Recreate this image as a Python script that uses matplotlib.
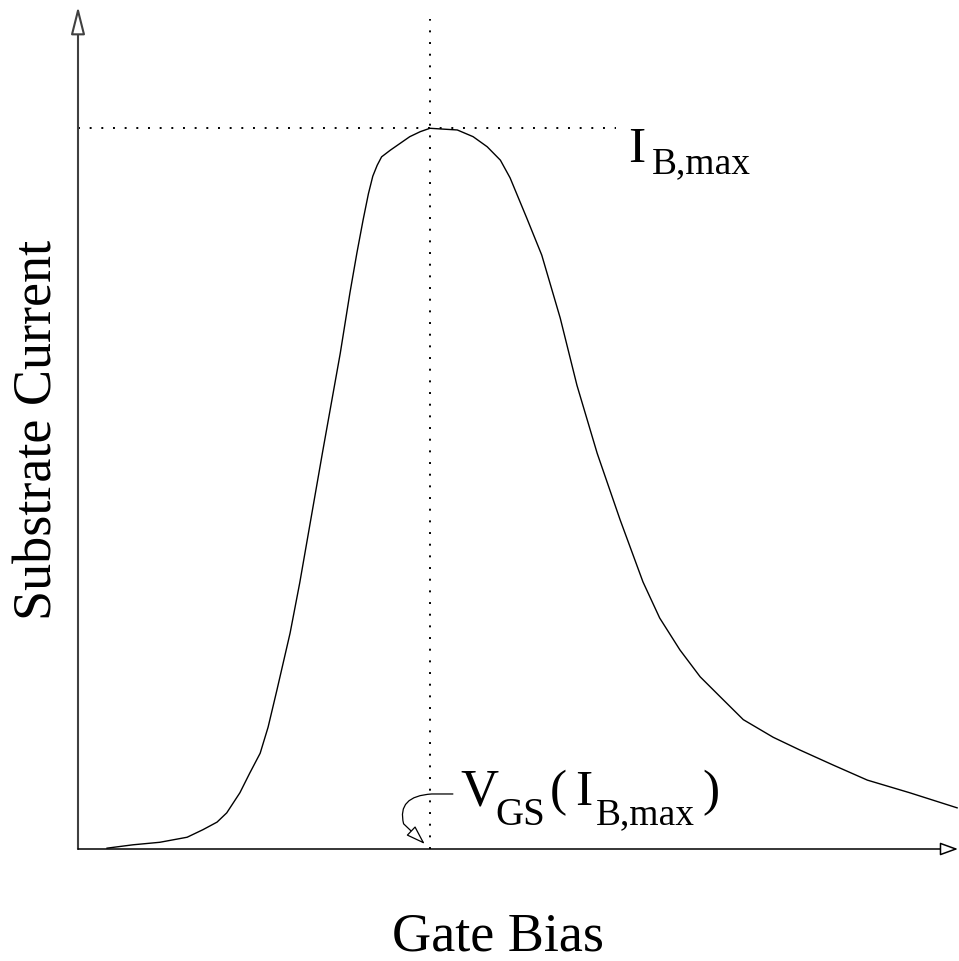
import numpy as np
import matplotlib
matplotlib.use("Agg")
import matplotlib.pyplot as plt
from matplotlib.patches import FancyArrowPatch
from matplotlib.path import Path

plt.rcParams['font.family'] = ['Liberation Serif', 'DejaVu Serif']

# substrate current vs gate bias (normalised units)
gate_bias = [0.033, 0.0625, 0.093, 0.124, 0.142, 0.158, 0.169, 0.184, 0.195, 0.207,
             0.216, 0.226, 0.241, 0.252, 0.261, 0.269, 0.278, 0.298, 0.309,
             0.317, 0.324, 0.330, 0.335, 0.340, 0.345, 0.355, 0.366, 0.377, 0.389,
             0.400, 0.415, 0.431, 0.449, 0.465, 0.480, 0.491, 0.510, 0.527, 0.548,
             0.567, 0.590, 0.616, 0.642, 0.661, 0.684, 0.707, 0.730, 0.756, 0.790,
             0.820, 0.858, 0.897, 0.945, 0.999]
substrate_current = [0.001, 0.005, 0.008, 0.014, 0.023, 0.032, 0.043, 0.067, 0.090, 0.114,
                     0.145, 0.189, 0.257, 0.317, 0.371, 0.419, 0.473, 0.590, 0.662,
                     0.710, 0.749, 0.780, 0.801, 0.814, 0.824, 0.832, 0.840, 0.848, 0.854,
                     0.858, 0.857, 0.856, 0.848, 0.836, 0.820, 0.799, 0.751, 0.707, 0.632,
                     0.552, 0.471, 0.392, 0.318, 0.275, 0.237, 0.205, 0.181, 0.154, 0.133,
                     0.118, 0.100, 0.082, 0.067, 0.049]

x_label = "Gate Bias"
y_label = "Substrate Current"

ipk = int(np.argmax(substrate_current))
v_peak = gate_bias[ipk]
i_peak = substrate_current[ipk]

fig = plt.figure(figsize=(9.59, 9.61), dpi=100)
ax = fig.add_axes([78 / 959, 112 / 961, 880 / 959, 840 / 961])
ax.set_xlim(0, 1)
ax.set_ylim(0, 1)
ax.axis('off')

# axes drawn as open-headed arrows
ax.annotate('', xy=(0, 1.003), xytext=(0, 0), annotation_clip=False,
            arrowprops=dict(arrowstyle='-|>,head_length=17,head_width=4.3',
                            mutation_scale=1, shrinkA=0, shrinkB=0,
                            fc='white', ec='0.25', lw=1.5))
ax.annotate('', xy=(1.0, 0), xytext=(0, 0), annotation_clip=False,
            arrowprops=dict(arrowstyle='-|>,head_length=11,head_width=4',
                            mutation_scale=1, shrinkA=0, shrinkB=0,
                            fc='white', ec='black', lw=1.1))

ax.plot(gate_bias, substrate_current, color='black', lw=1.0, clip_on=False,
        solid_joinstyle='round')

# guide lines through the peak
ax.plot([0, 0.611], [i_peak, i_peak], color='black', lw=1.4,
        linestyle=(0, (1, 5)), dash_capstyle='butt', clip_on=False)
ax.plot([v_peak, v_peak], [0, 0.988], color='black', lw=1.4,
        linestyle=(0, (1, 5)), dash_capstyle='butt', clip_on=False)

big = 37
small = 27
ax.text(0.625, 0.818, 'I', fontsize=big, va='baseline', ha='left')
ax.text(0.652, 0.804, 'B,max', fontsize=small, va='baseline', ha='left')

ax.text(0.434, 0.052, 'V', fontsize=big + 1, va='baseline', ha='left')
ax.text(0.474, 0.029, 'GS', fontsize=small + 1, va='baseline', ha='left')
ax.text(0.536, 0.052, '(', fontsize=big, va='baseline', ha='left')
ax.text(0.565, 0.052, 'I', fontsize=big, va='baseline', ha='left')
ax.text(0.589, 0.029, 'B,max', fontsize=small, va='baseline', ha='left')
ax.text(0.710, 0.052, ')', fontsize=big, va='baseline', ha='left')

# hooked pointer from the label down to the x axis
hook = Path([(0.426, 0.0655), (0.402, 0.0655), (0.362, 0.063), (0.370, 0.030), (0.394, 0.006)],
            [Path.MOVETO, Path.LINETO, Path.CURVE3, Path.CURVE3, Path.LINETO])
ax.add_patch(FancyArrowPatch(path=hook, arrowstyle='-|>,head_length=12,head_width=4',
                             mutation_scale=1, fc='white', ec='black', lw=0.9,
                             transform=ax.transData, clip_on=False))

ax.text(0.477, -0.121, x_label, fontsize=39, va='baseline', ha='center')
ax.text(-0.045, 0.499, y_label, fontsize=39, rotation=90, va='center', ha='center')

fig.savefig('out.png', dpi=100)
